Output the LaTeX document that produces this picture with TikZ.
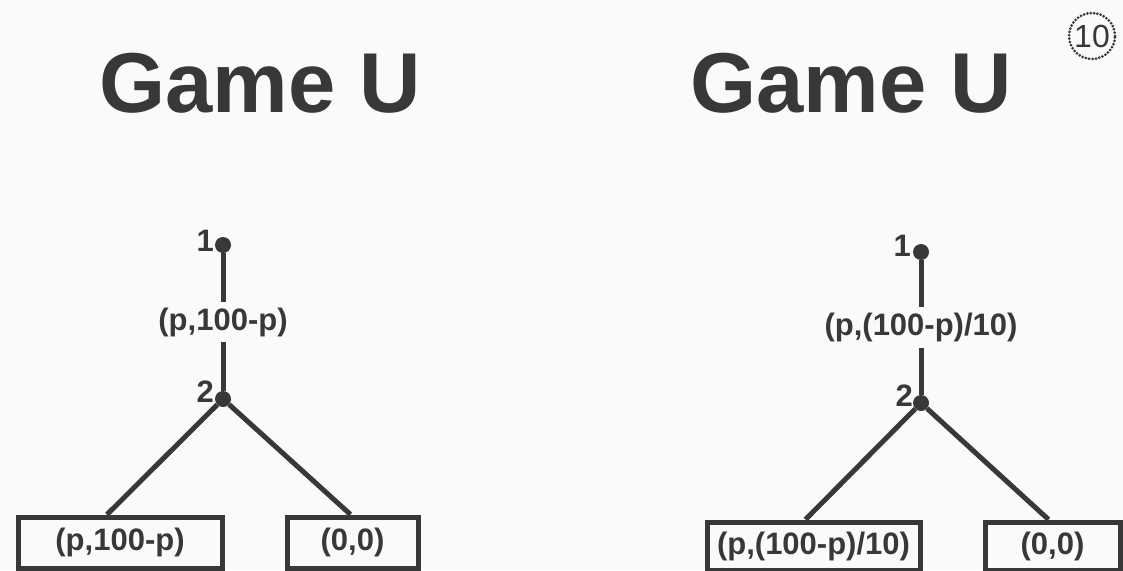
\documentclass[tikz,border=0pt]{standalone}
\usepackage{fontspec}
\setmainfont{Liberation Sans}
\begin{document}
\begin{tikzpicture}[x=1pt,y=-1pt,
  ink/.style={draw=inkc,line width=5pt},
  dot/.style={circle,fill=inkc,inner sep=0pt,minimum size=16pt},
  title/.style={text=inkc,font=\fontsize{85}{90}\selectfont\bfseries,anchor=base,inner sep=0pt},
  lbl/.style={text=inkc,font=\fontsize{31}{34}\selectfont\bfseries,inner sep=0pt},
  elbl/.style={lbl,fill=paper,inner xsep=2pt,inner ysep=6pt},
  payoff/.style={ink,rectangle,text=inkc,font=\fontsize{31}{34}\selectfont\bfseries,inner sep=0pt},
]
\definecolor{inkc}{HTML}{383838}
\definecolor{paper}{HTML}{FAFAF8}
\fill[paper] (0,0) rectangle (1123,570);
\useasboundingbox (0,0) rectangle (1123,570);

% titles
\node[title] (tl) at (260,112) {Game U};
\node[title] (tr) at (851,112) {Game U};
\node[circle,draw=inkc,line width=3pt,dash pattern=on 0pt off 3.4pt,line cap=round,
      minimum size=46pt,inner sep=0pt,text=inkc,font=\fontsize{32}{34}\selectfont] (num) at (1092,36) {10};

% left tree
\node[dot] (L1) at (223,245) {};
\node[dot] (L2) at (223,399) {};
\node[lbl,anchor=east] (L1n) at (214,241) {1};
\node[lbl,anchor=east] (L2n) at (214,392) {2};
\node[payoff,minimum width=204pt,minimum height=51pt] (La) at (120,542.5) {(p,100-p)};
\node[payoff,minimum width=131pt,minimum height=51pt] (Lb) at (352.5,542.5) {(0,0)};
\draw[ink] (L1) -- (L2) node[elbl,midway] (Le) {(p,100-p)};
\draw[ink] (L2) -- ([xshift=-13pt]La.north);
\draw[ink] (L2) -- ([xshift=-2pt]Lb.north);

% right tree
\node[dot] (R1) at (921,252) {};
\node[dot] (R2) at (921,403) {};
\node[lbl,anchor=east] (R1n) at (911,246) {1};
\node[lbl,anchor=east] (R2n) at (913,396) {2};
\node[payoff,minimum width=213pt,minimum height=48pt] (Ra) at (813.5,546) {(p,(100-p)/10)};
\node[payoff,minimum width=135pt,minimum height=48pt] (Rb) at (1052.5,546) {(0,0)};
\draw[ink] (R1) -- (R2) node[elbl,midway] (Re) {(p,(100-p)/10)};
\draw[ink] (R2) -- ([xshift=-8pt]Ra.north);
\draw[ink] (R2) -- ([xshift=-4pt]Rb.north);
\end{tikzpicture}
\end{document}
